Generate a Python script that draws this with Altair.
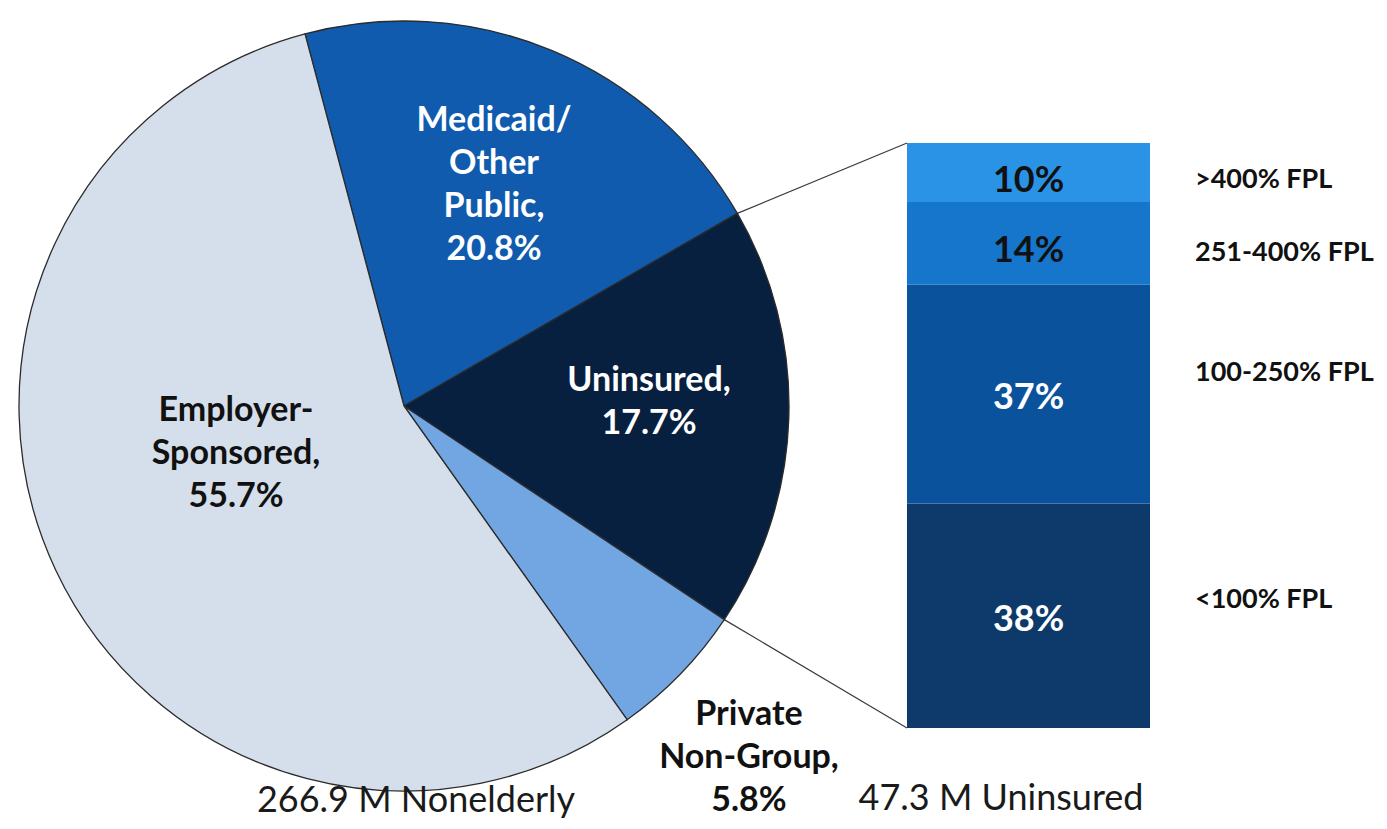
import math
import altair as alt
import pandas as pd

# ---------------- data ----------------
PIE_CATEGORIES = ["Medicaid/Other Public", "Uninsured", "Private Non-Group", "Employer-Sponsored"]
PIE_SHARES = [20.8, 17.7, 5.8, 55.7]
PIE_LABEL_TEXT = ["Medicaid/\nOther\nPublic,", "Uninsured,", "Private\nNon-Group,", "Employer-\nSponsored,"]

FPL_GROUPS = ["<100% FPL", "100-250% FPL", "251-400% FPL", ">400% FPL"]
FPL_SHARES = [38, 37, 14, 10]

CAPTIONS = ["266.9 M Nonelderly", "47.3 M Uninsured"]

# ---------------- styles / layout ----------------
PIE_COLORS = ["#105BAD", "#07203F", "#72A6E2", "#D5DFEB"]
PIE_TEXT_COLORS = ["#FFFFFF", "#FFFFFF", "#111111", "#111111"]
FPL_COLORS = ["#0E3A6B", "#0B529D", "#1576CC", "#2A93E6"]
FPL_TEXT_COLORS = ["#FFFFFF", "#FFFFFF", "#111111", "#111111"]
W, H = 1371, 813
CX, CY, R = 396, 398, 385
START_DEG = -14.9
# first-line anchor of each pie label
PIE_LABEL_XY = [(486, 113), (641, 373), (741, 707), (228, 403)]
BAR_X0, BAR_X1, BAR_TOP, BAR_BOTTOM = 899, 1142, 135, 720
FPL_LABEL_X = 1187
FPL_LABEL_NUDGE = [-16, -21, 10, 7]  # px, positive = down
PCT_NUDGE = [1, 1, 5, 5]
CAPTION_XY = [(408, 793), (993, 791)]
FONT = "Lato"

# ---------------- pie ----------------
start = math.radians(START_DEG)
pie_total = sum(PIE_SHARES)
pie_df = pd.DataFrame({
    "category": PIE_CATEGORIES,
    "share": PIE_SHARES,
    "order": list(range(len(PIE_CATEGORIES))),
})
theta_scale = alt.Scale(domain=[0, pie_total], range=[start, start + 2 * math.pi])
pie = alt.Chart(pie_df).mark_arc(outerRadius=R, stroke="#2b2b2b", strokeWidth=1.3).encode(
    theta=alt.Theta("share:Q", stack=True, scale=theta_scale),
    color=alt.Color("category:N", scale=alt.Scale(domain=PIE_CATEGORIES, range=PIE_COLORS), legend=None),
    order=alt.Order("order:Q"),
    x=alt.value(CX),
    y=alt.value(CY),
)

pie_label_df = pd.DataFrame({
    "label": [f"{t}\n{v}%" for t, v in zip(PIE_LABEL_TEXT, PIE_SHARES)],
    "lx": [p[0] for p in PIE_LABEL_XY],
    "ly": [p[1] for p in PIE_LABEL_XY],
    "tc": PIE_TEXT_COLORS,
})
pie_labels = alt.Chart(pie_label_df).mark_text(
    font=FONT, fontWeight="bold", fontSize=34, lineBreak="\n", lineHeight=43,
    align="center", baseline="middle",
).encode(
    x=alt.X("lx:Q", scale=None),
    y=alt.Y("ly:Q", scale=None),
    text="label:N",
    color=alt.Color("tc:N", scale=None),
)

# ---------------- stacked bar ----------------
bar_total = sum(FPL_SHARES)
y0, y1, acc = [], [], 0
for v in FPL_SHARES:
    y0.append(acc)
    acc += v
    y1.append(acc)
px_per_unit = (BAR_BOTTOM - BAR_TOP) / bar_total
bar_df = pd.DataFrame({
    "grp": ["Uninsured"] * len(FPL_GROUPS),
    "fpl": FPL_GROUPS,
    "share": FPL_SHARES,
    "y0": y0,
    "y1": y1,
    "mid": [(a + b) / 2 for a, b in zip(y0, y1)],
    "pct": [f"{v}%" for v in FPL_SHARES],
    "tc": FPL_TEXT_COLORS,
})
bar_df["ly"] = bar_df["mid"] - pd.Series(FPL_LABEL_NUDGE) / px_per_unit
bar_df["py"] = bar_df["mid"] - pd.Series(PCT_NUDGE) / px_per_unit

x_scale = alt.Scale(domain=["Uninsured"], range=[BAR_X0, BAR_X1], paddingInner=0, paddingOuter=0)
y_scale = alt.Scale(domain=[0, bar_total], range=[BAR_BOTTOM, BAR_TOP], nice=False, zero=True)

bar = alt.Chart(bar_df).mark_bar().encode(
    x=alt.X("grp:N", scale=x_scale, axis=None),
    y=alt.Y("y0:Q", scale=y_scale, axis=None),
    y2="y1:Q",
    color=alt.Color("fpl:N", scale=alt.Scale(domain=FPL_GROUPS, range=FPL_COLORS), legend=None),
)
bar_pct = alt.Chart(bar_df).mark_text(
    font=FONT, fontWeight="bold", fontSize=36, align="center", baseline="middle", dy=3,
).encode(
    x=alt.X("grp:N", scale=x_scale, axis=None),
    y=alt.Y("py:Q", scale=y_scale, axis=None),
    text="pct:N",
    color=alt.Color("tc:N", scale=None),
)
fpl_labels = alt.Chart(bar_df).mark_text(
    font=FONT, fontWeight="bold", fontSize=27, align="left", baseline="middle", color="#111111",
).encode(
    x=alt.value(FPL_LABEL_X),
    y=alt.Y("ly:Q", scale=y_scale, axis=None),
    text="fpl:N",
)

# ---------------- connector lines ----------------
cum_medicaid = PIE_SHARES[0] / pie_total
cum_uninsured = (PIE_SHARES[0] + PIE_SHARES[1]) / pie_total
a1 = start + cum_medicaid * 2 * math.pi
a2 = start + cum_uninsured * 2 * math.pi
conn_df = pd.DataFrame({
    "x": [CX + R * math.sin(a1), CX + R * math.sin(a2)],
    "y": [CY - R * math.cos(a1), CY - R * math.cos(a2)],
    "x2": [BAR_X0, BAR_X0],
    "y2": [BAR_TOP, BAR_BOTTOM],
})
connectors = alt.Chart(conn_df).mark_rule(color="#3a3a3a", strokeWidth=1.2).encode(
    x=alt.X("x:Q", scale=None),
    y=alt.Y("y:Q", scale=None),
    x2="x2:Q",
    y2="y2:Q",
)

# ---------------- captions ----------------
cap_df = pd.DataFrame({
    "t": CAPTIONS,
    "cx": [p[0] for p in CAPTION_XY],
    "cy": [p[1] for p in CAPTION_XY],
})
captions = alt.Chart(cap_df).mark_text(
    font=FONT, fontSize=36, align="center", baseline="middle", color="#1a1a1a",
).encode(
    x=alt.X("cx:Q", scale=None),
    y=alt.Y("cy:Q", scale=None),
    text="t:N",
)

chart = alt.layer(
    connectors, pie, pie_labels, bar, bar_pct, fpl_labels, captions
).resolve_scale(
    x="independent", y="independent", color="independent", theta="independent"
).properties(
    width=W, height=H, autosize=alt.AutoSizeParams(type="none"), padding=0, background="white",
).configure_view(strokeWidth=0)

chart.save("out.html", embed_options={"renderer": "svg", "actions": False})
